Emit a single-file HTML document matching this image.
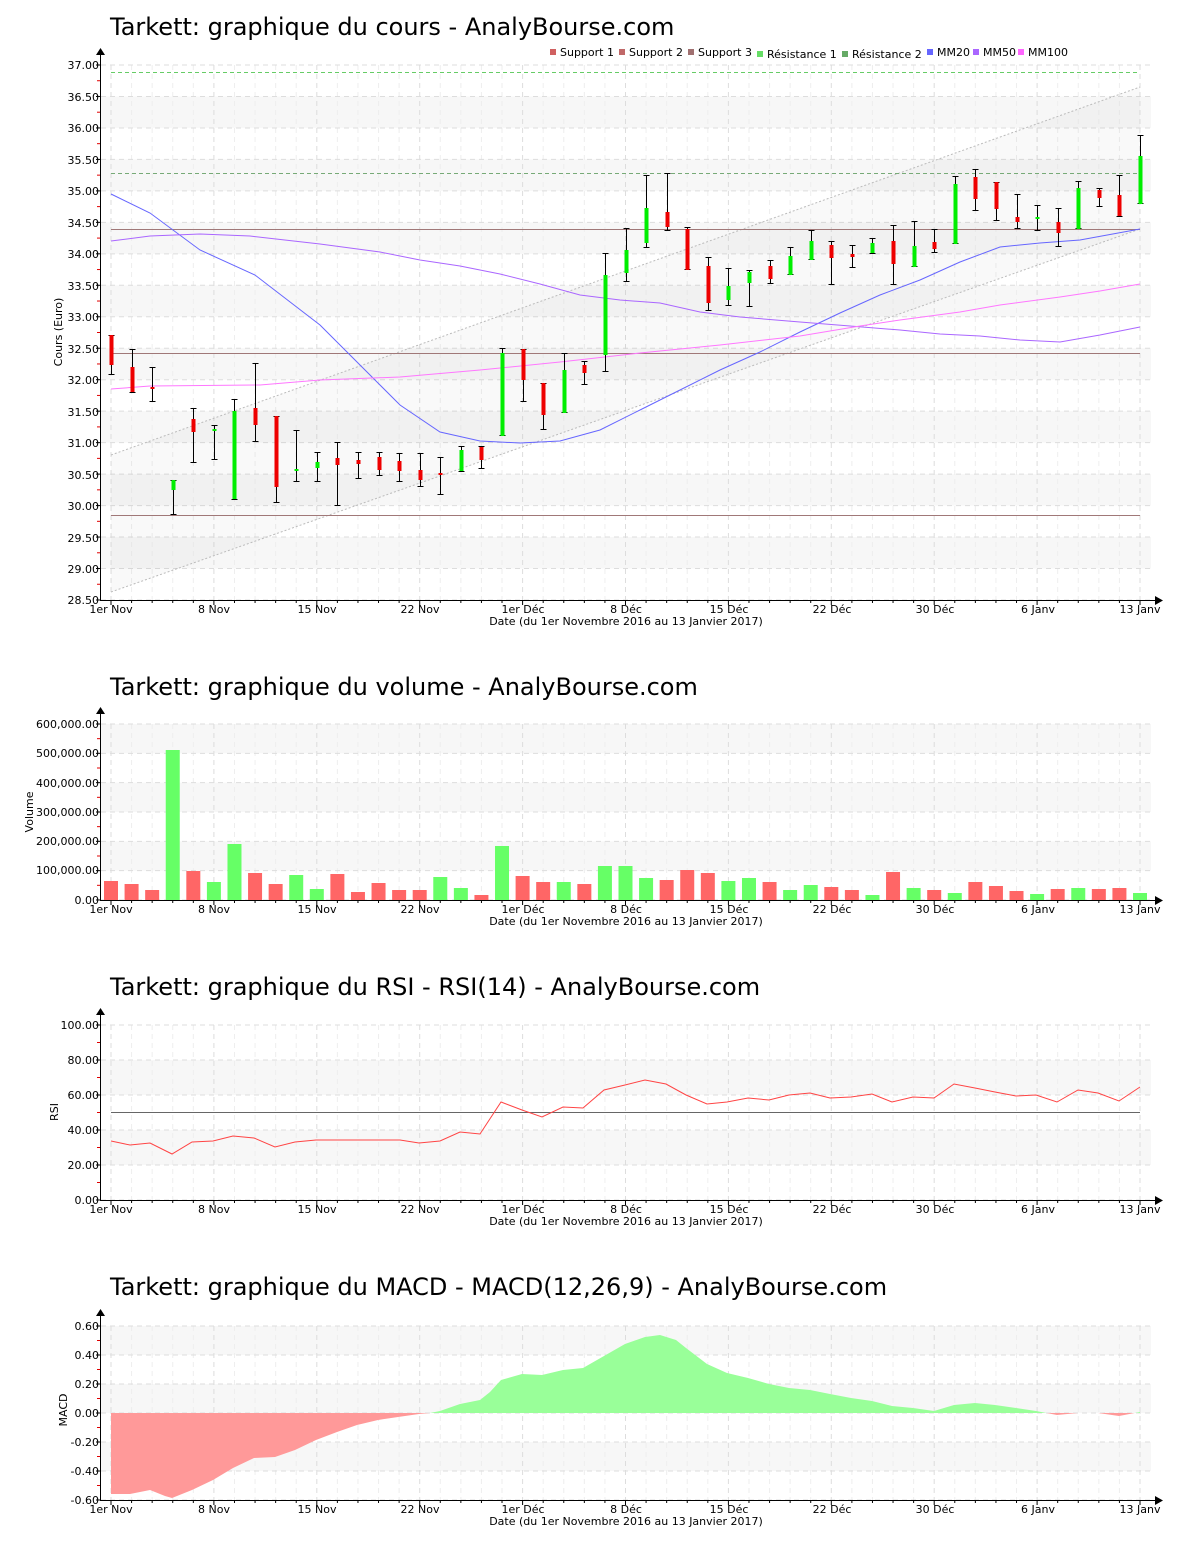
<!DOCTYPE html>
<html><head><meta charset="utf-8"><style>
body{margin:0;background:#fff}
svg{display:block}
text{font-family:"DejaVu Sans","Liberation Sans",sans-serif}
.t{font-size:24px;fill:#000}
.yl{font-size:11px;text-anchor:end;fill:#000}
.xl{font-size:11px;text-anchor:middle;fill:#000}
.lg{font-size:11px;fill:#000}
</style></head><body>
<svg id="s" width="1200" height="1550" xmlns="http://www.w3.org/2000/svg">
<g id="geo"></g>
<text class="t" x="110" y="35">Tarkett: graphique du cours - AnalyBourse.com</text>
<text class="t" x="110" y="695">Tarkett: graphique du volume - AnalyBourse.com</text>
<text class="t" x="110" y="995">Tarkett: graphique du RSI - RSI(14) - AnalyBourse.com</text>
<text class="t" x="110" y="1295">Tarkett: graphique du MACD - MACD(12,26,9) - AnalyBourse.com</text>
<g class="lg">
<rect x="550" y="49" width="6" height="6" fill="#d06060"/><text x="560" y="56">Support 1</text>
<rect x="619" y="49" width="6" height="6" fill="#c06868"/><text x="629" y="56">Support 2</text>
<rect x="688" y="49" width="6" height="6" fill="#a07070"/><text x="698" y="56">Support 3</text>
<rect x="757" y="51" width="6" height="6" fill="#66dd66"/><text x="767" y="58">Résistance 1</text>
<rect x="842" y="51" width="6" height="6" fill="#66aa66"/><text x="852" y="58">Résistance 2</text>
<rect x="927" y="49" width="6" height="6" fill="#6666ff"/><text x="937" y="56">MM20</text>
<rect x="973" y="49" width="6" height="6" fill="#aa66ff"/><text x="983" y="56">MM50</text>
<rect x="1018" y="49" width="6" height="6" fill="#ff66ff"/><text x="1028" y="56">MM100</text>
</g>
<g class="yl">
<text x="99" y="69">37.00</text><text x="99" y="101">36.50</text><text x="99" y="132">36.00</text><text x="99" y="164">35.50</text><text x="99" y="195">35.00</text><text x="99" y="227">34.50</text><text x="99" y="258">34.00</text><text x="99" y="290">33.50</text><text x="99" y="321">33.00</text><text x="99" y="353">32.50</text><text x="99" y="384">32.00</text><text x="99" y="416">31.50</text><text x="99" y="447">31.00</text><text x="99" y="479">30.50</text><text x="99" y="510">30.00</text><text x="99" y="542">29.50</text><text x="99" y="573">29.00</text><text x="99" y="604">28.50</text>
<text x="99" y="728">600,000.00</text><text x="99" y="757">500,000.00</text><text x="99" y="787">400,000.00</text><text x="99" y="816">300,000.00</text><text x="99" y="845">200,000.00</text><text x="99" y="874">100,000.00</text><text x="99" y="904">0.00</text>
<text x="99" y="1029">100.00</text><text x="99" y="1064">80.00</text><text x="99" y="1099">60.00</text><text x="99" y="1134">40.00</text><text x="99" y="1169">20.00</text><text x="99" y="1204">0.00</text>
<text x="99" y="1330">0.60</text><text x="99" y="1359">0.40</text><text x="99" y="1388">0.20</text><text x="99" y="1417">0.00</text><text x="99" y="1446">-0.20</text><text x="99" y="1475">-0.40</text><text x="99" y="1504">-0.60</text>
</g>
<g font-size="11" text-anchor="middle">
<text transform="translate(62,332) rotate(-90)">Cours (Euro)</text>
<text transform="translate(33,812) rotate(-90)">Volume</text>
<text transform="translate(58,1112) rotate(-90)">RSI</text>
<text transform="translate(67,1410) rotate(-90)">MACD</text>
</g>
<g class="xl">
<text x="111" y="613">1er Nov</text><text x="214" y="613">8 Nov</text><text x="317" y="613">15 Nov</text><text x="420" y="613">22 Nov</text><text x="523" y="613">1er Déc</text><text x="626" y="613">8 Déc</text><text x="729" y="613">15 Déc</text><text x="832" y="613">22 Déc</text><text x="935" y="613">30 Déc</text><text x="1038" y="613">6 Janv</text><text x="1140" y="613">13 Janv</text>
<text x="626" y="625">Date (du 1er Novembre 2016 au 13 Janvier 2017)</text>
<text x="111" y="913">1er Nov</text><text x="214" y="913">8 Nov</text><text x="317" y="913">15 Nov</text><text x="420" y="913">22 Nov</text><text x="523" y="913">1er Déc</text><text x="626" y="913">8 Déc</text><text x="729" y="913">15 Déc</text><text x="832" y="913">22 Déc</text><text x="935" y="913">30 Déc</text><text x="1038" y="913">6 Janv</text><text x="1140" y="913">13 Janv</text>
<text x="626" y="925">Date (du 1er Novembre 2016 au 13 Janvier 2017)</text>
<text x="111" y="1213">1er Nov</text><text x="214" y="1213">8 Nov</text><text x="317" y="1213">15 Nov</text><text x="420" y="1213">22 Nov</text><text x="523" y="1213">1er Déc</text><text x="626" y="1213">8 Déc</text><text x="729" y="1213">15 Déc</text><text x="832" y="1213">22 Déc</text><text x="935" y="1213">30 Déc</text><text x="1038" y="1213">6 Janv</text><text x="1140" y="1213">13 Janv</text>
<text x="626" y="1225">Date (du 1er Novembre 2016 au 13 Janvier 2017)</text>
<text x="111" y="1513">1er Nov</text><text x="214" y="1513">8 Nov</text><text x="317" y="1513">15 Nov</text><text x="420" y="1513">22 Nov</text><text x="523" y="1513">1er Déc</text><text x="626" y="1513">8 Déc</text><text x="729" y="1513">15 Déc</text><text x="832" y="1513">22 Déc</text><text x="935" y="1513">30 Déc</text><text x="1038" y="1513">6 Janv</text><text x="1140" y="1513">13 Janv</text>
<text x="626" y="1525">Date (du 1er Novembre 2016 au 13 Janvier 2017)</text>
</g>
</svg>
<script>
var NS="http://www.w3.org/2000/svg",G=document.getElementById("geo");
function el(t,a){var e=document.createElementNS(NS,t);for(var k in a)e.setAttribute(k,a[k]);G.appendChild(e);return e}
function X(i){return 111+i*20.58}
function panel(top,bot,ticks,bands){
 bands.forEach(function(b){el("rect",{x:101,y:b[0],width:1050,height:b[1]-b[0],fill:"#f7f7f7"})});
 for(var i=0;i<=50;i++){var x=X(i);el("line",{x1:x,y1:top,x2:x,y2:bot,stroke:i%5==0?"#dddddd":"#eeeeee","stroke-dasharray":"5,4"})}
 ticks.forEach(function(y){el("line",{x1:101,y1:y,x2:1151,y2:y,stroke:"#dddddd","stroke-dasharray":"5,4"})});
 for(var j=0;j<ticks.length-1;j++){var m=(ticks[j]+ticks[j+1])/2;el("line",{x1:97,y1:m,x2:101,y2:m,stroke:"#e00000"})}
 ticks.forEach(function(y){el("line",{x1:96,y1:y,x2:101,y2:y,stroke:"#000"})});
 el("line",{x1:100.5,y1:top-12,x2:100.5,y2:bot,stroke:"#000"});
 el("path",{d:"M96 "+(top-10)+"L100.5 "+(top-17)+"L105 "+(top-10)+"Z",fill:"#000"});
 el("line",{x1:100,y1:bot+.5,x2:1158,y2:bot+.5,stroke:"#000"});
 el("path",{d:"M1155 "+(bot-4)+"L1163 "+(bot+.5)+"L1155 "+(bot+5)+"Z",fill:"#000"});
 for(var i=0;i<=50;i++){el("line",{x1:X(i),y1:bot,x2:X(i),y2:bot+(i%5==0?5:3),stroke:"#000"})}
}
function poly(pts,col,w,extra){var a={points:pts.map(function(p){return p.join(",")}).join(" "),fill:"none",stroke:col,"stroke-width":w||1};for(var k in extra)a[k]=extra[k];return el("polyline",a)}
// Chart 1
var t1=[];for(var k=0;k<18;k++)t1.push(65+k*31.47);
var b1=[];for(var k=1;k<17;k+=2)b1.push([t1[k],t1[k+1]]);
panel(65,600,t1,b1);
el("polygon",{points:"111,455 1140,87 1140,229 111,592",fill:"rgba(0,0,0,0.025)"});
poly([[111,455],[1140,87]],"#bbb",1,{"stroke-dasharray":"2,2"});
poly([[111,592],[1140,229]],"#bbb",1,{"stroke-dasharray":"2,2"});
el("line",{x1:111,y1:72.5,x2:1140,y2:72.5,stroke:"#66cc66","stroke-dasharray":"4,3"});
el("line",{x1:111,y1:173.5,x2:1140,y2:173.5,stroke:"#77aa77","stroke-dasharray":"4,3"});
[229.5,353.5,515.5].forEach(function(y){el("line",{x1:111,y1:y,x2:1140,y2:y,stroke:"#a07878"})});
poly([[111,194],[150,213],[200,250],[255,275],[320,325],[370,375],[400,405],[440,432],[480,441],[520,443],[560,441],[600,430],[640,410],[680,390],[720,370],[760,352],[800,332],[840,313],[880,295],[920,280],[960,262],[1000,247],[1040,243],[1080,240],[1140,229]],"#6666ff");
poly([[111,241],[150,236],[200,234],[250,236],[320,244],[380,252],[420,260],[460,266],[500,274],[540,284],[580,295],[620,300],[660,303],[700,312],[740,317],[800,322],[850,326],[900,330],[940,334],[980,336],[1020,340],[1060,342],[1100,335],[1140,327]],"#aa66ff");
poly([[111,389],[150,386],[260,385],[320,380],[400,377],[480,370],[560,362],[640,353],[720,345],[800,336],[860,326],[900,320],[960,312],[1000,305],[1060,297],[1100,291],[1140,284]],"#ff77ff");
var C=[[335,375,335,365,0],[349,393,367,392,0],[367,402,387,389,0],[480,515,480,490,1],[408,463,419,432,0],[425,460,429,431,1],[399,500,411,499,1],[363,442,408,425,0],[416,503,416,487,0],[430,482,469,471,1],[452,482,462,468,1],[442,506,458,465,0],[452,479,460,464,0],[452,476,457,470,0],[453,482,461,471,0],[453,487,470,480,0],[457,495,473,475,0],[446,472,450,471,1],[446,469,447,460,0],[348,436,353,436,1],[349,402,349,380,0],[383,430,383,415,0],[353,413,370,413,1],[361,385,365,373,0],[253,372,275,355,1],[228,282,250,273,1],[175,248,208,243,1],[173,231,212,227,0],[227,270,229,270,0],[257,311,266,303,0],[268,306,286,300,1],[270,307,272,283,1],[260,284,266,279,0],[247,275,256,275,1],[230,260,241,260,1],[241,285,245,258,0],[245,268,254,257,0],[238,254,243,253,1],[225,285,241,264,0],[221,267,246,267,1],[229,253,242,249,0],[176,244,184,244,1],[169,211,177,199,0],[182,221,182,209,0],[194,229,217,222,0],[205,231,217,219,1],[208,247,222,233,0],[181,229,188,229,1],[188,207,190,198,0],[175,217,195,216,0],[135,204,156,204,1]];
C.forEach(function(c,i){var x=Math.round(X(i))+.5;
 el("line",{x1:x,y1:c[0],x2:x,y2:c[1],stroke:"#000"});
 el("line",{x1:x-3,y1:c[0]+.5,x2:x+3,y2:c[0]+.5,stroke:"#000"});
 el("line",{x1:x-3,y1:c[1]-.5,x2:x+3,y2:c[1]-.5,stroke:"#000"});
 el("rect",{x:x-2,y:c[2],width:4,height:Math.max(2,c[3]-c[2]),fill:c[4]?"#00ee00":"#ee0000"})});
// Chart 2
var t2=[];for(var k=0;k<7;k++)t2.push(724+k*29.33);
panel(724,900,t2,[[t2[0],t2[1]],[t2[2],t2[3]],[t2[4],t2[5]]]);
var V=[[881,0],[884,0],[890,0],[750,1],[871,0],[882,1],[844,1],[873,0],[884,0],[875,1],[889,1],[874,0],[892,0],[883,0],[890,0],[890,0],[877,1],[888,1],[895,0],[846,1],[876,0],[882,0],[882,1],[884,0],[866,1],[866,1],[878,1],[880,0],[870,0],[873,0],[881,1],[878,1],[882,0],[890,1],[885,1],[887,0],[890,0],[895,1],[872,0],[888,1],[890,0],[893,1],[882,0],[886,0],[891,0],[894,1],[889,0],[888,1],[889,0],[888,0],[893,1]];
V.forEach(function(v,i){el("rect",{x:X(i)-7,y:v[0],width:14,height:900-v[0],fill:v[1]?"#66ff66":"#ff6666"})});
// Chart 3
var t3=[];for(var k=0;k<6;k++)t3.push(1025+k*35);
panel(1025,1200,t3,[[1060,1095],[1130,1165]]);
el("line",{x1:111,y1:1112.5,x2:1140,y2:1112.5,stroke:"#666"});
poly([[111,1141],[130,1145],[150,1143],[172,1154],[192,1142],[213,1141],[233,1136],[254,1138],[275,1147],[295,1142],[316,1140],[400,1140],[419,1143],[440,1141],[460,1132],[480,1134],[501,1102],[522,1110],[542,1117],[563,1107],[583,1108],[604,1090],[625,1085],[645,1080],[666,1084],[686,1095],[707,1104],[727,1102],[748,1098],[769,1100],[789,1095],[810,1093],[830,1098],[851,1097],[872,1094],[892,1102],[913,1097],[934,1098],[954,1084],[975,1088],[995,1092],[1016,1096],[1036,1095],[1057,1102],[1078,1090],[1098,1093],[1119,1101],[1140,1087]],"#ff4444");
// Chart 4
var t4=[];for(var k=0;k<7;k++)t4.push(1326+k*29);
panel(1326,1500,t4,[[1326,1355],[1384,1413],[1442,1471]]);
var M=[[111,1494],[130,1494],[150,1490],[165,1496],[172,1498],[192,1490],[213,1480],[233,1468],[254,1458],[275,1457],[295,1450],[316,1440],[337,1432],[357,1425],[378,1420],[398,1417],[419,1414],[430,1413],[440,1411],[460,1404],[480,1400],[490,1392],[501,1380],[522,1374],[542,1375],[563,1370],[583,1368],[604,1356],[625,1344],[645,1337],[660,1335],[676,1340],[686,1348],[707,1364],[727,1373],[748,1378],[769,1384],[789,1388],[810,1390],[830,1394],[851,1398],[872,1401],[892,1406],[913,1408],[934,1411],[954,1405],[975,1403],[995,1405],[1016,1408],[1036,1411],[1057,1415],[1078,1413],[1098,1413],[1119,1416],[1140,1412]];
var d="M111 1413 "+M.map(function(p){return "L"+p[0]+" "+p[1]}).join(" ")+" L1140 1413Z";
var defs=el("defs",{});
var c1=document.createElementNS(NS,"clipPath");c1.setAttribute("id","up");var r1=document.createElementNS(NS,"rect");r1.setAttribute("x",0);r1.setAttribute("y",1300);r1.setAttribute("width",1200);r1.setAttribute("height",113);c1.appendChild(r1);defs.appendChild(c1);
var c2=document.createElementNS(NS,"clipPath");c2.setAttribute("id","dn");var r2=document.createElementNS(NS,"rect");r2.setAttribute("x",0);r2.setAttribute("y",1413);r2.setAttribute("width",1200);r2.setAttribute("height",100);c2.appendChild(r2);defs.appendChild(c2);
el("path",{d:d,fill:"#99ff99","clip-path":"url(#up)"});
el("path",{d:d,fill:"#ff9999","clip-path":"url(#dn)"});
</script>
</body></html>
